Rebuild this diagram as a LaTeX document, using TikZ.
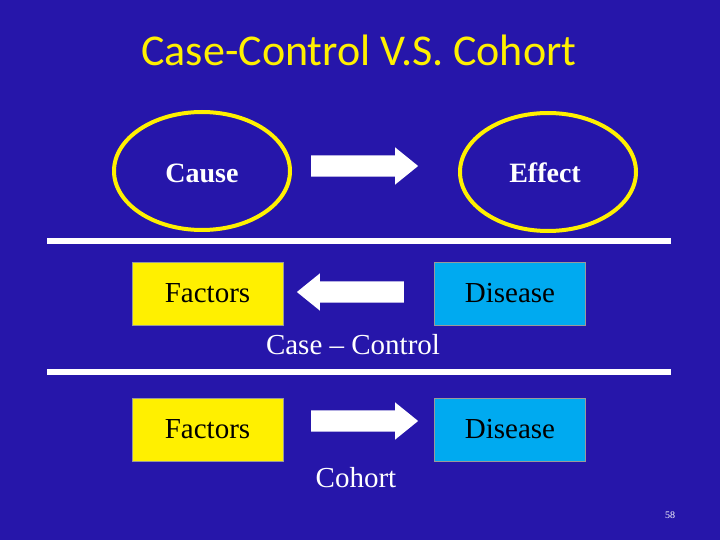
\documentclass[tikz,border=0pt]{standalone}
\usepackage{fontspec}
\setmainfont{Liberation Serif}
\newfontfamily\titlefont{Carlito}
\usetikzlibrary{shapes.geometric, shapes.arrows}
\definecolor{slideblue}{RGB}{38,22,170}
\definecolor{slideyellow}{RGB}{255,240,0}
\definecolor{skyblue}{RGB}{0,170,240}
\begin{document}
\begin{tikzpicture}[x=1pt, y=-1pt,
  oval/.style = {draw=slideyellow, line width=4pt, ellipse, fill=slideblue, minimum width=176pt, minimum height=118pt},
  box/.style = {draw=black!40, minimum width=151pt, minimum height=63pt, inner sep=0pt},
  blockarrow/.style = {single arrow, fill=white, minimum height=107pt, inner sep=0pt, single arrow head extend=8pt, single arrow tip angle=78},
  label/.style = {font=\fontsize{29}{31}\selectfont, text=black},
  sep/.style = {white, line width=6pt}]
  \fill[slideblue] (0,0) rectangle (720,540);
  \node[font=\titlefont\fontsize{44}{48}\selectfont, text=slideyellow] (title) at (359,50) {Case-Control V.S. Cohort};
  % top row
  \node[oval] (cause) at (202,171) {};
  \node[oval] (effect) at (548,172) {};
  \node[label, text=white, font=\fontsize{28}{30}\selectfont\bfseries] (causetext) at (202,173) {Cause};
  \node[label, text=white, font=\fontsize{28}{30}\selectfont\bfseries] (effecttext) at (545,173) {Effect};
  \node[blockarrow] (arr1) at (358,166) {\rule{0pt}{21pt}};
  \draw[sep] (47,241) -- (671,241);
  % case-control
  \node[box, fill=slideyellow] (fac1) at (207.5,293.5) {};
  \node[box, fill=skyblue] (dis1) at (510,293.5) {};
  \node[label] at (fac1) {Factors};
  \node[label] at (dis1) {Disease};
  \node[blockarrow, shape border rotate=180] (arr2) at (357,292) {\rule{0pt}{21pt}};
  \node[label, text=white] (cc) at (353,345) {Case -- Control};
  \draw[sep] (47,372) -- (671,372);
  % cohort
  \node[box, fill=slideyellow] (fac2) at (207.5,429.5) {};
  \node[box, fill=skyblue] (dis2) at (510,429.5) {};
  \node[label] at (fac2) {Factors};
  \node[label] at (dis2) {Disease};
  \node[blockarrow] (arr3) at (358,421) {\rule{0pt}{21pt}};
  \node[label, text=white] (coh) at (356,478) {Cohort};
  \node[font=\fontsize{10}{11}\selectfont, text=white] (page) at (670,515) {58};
\end{tikzpicture}
\end{document}
